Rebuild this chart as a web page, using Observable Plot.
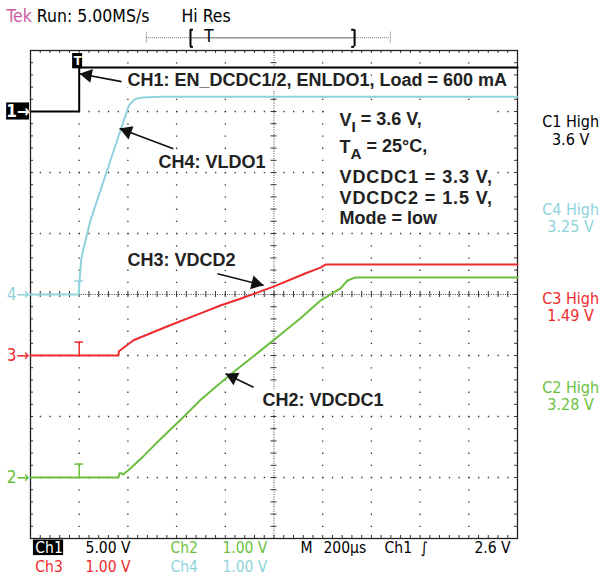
<!DOCTYPE html>
<html><head><meta charset="utf-8">
<script src="https://cdn.jsdelivr.net/npm/d3@7"></script>
<script src="https://cdn.jsdelivr.net/npm/@observablehq/plot@0.6"></script>
<style>body{margin:0;background:#fff}#chart svg{display:block}</style>
</head><body><div id="chart"></div>
<script>
// ---------- Trace data: time in µs after trigger, value in volts ----------
const ch1Time  = [-200, 0, 0, 1800];
const ch1Volts = [0, 0, 3.6, 3.6];
const ch4Time  = [-200, -2, 2.5, 8, 19, 46, 101, 142, 183, 204, 231, 260, 334, 1800];
const ch4Volts = [0, 0, 0.28, 0.56, 0.78, 1.21, 1.87, 2.36, 2.85, 3.10, 3.21, 3.23, 3.24, 3.24];
const ch3Time  = [-200, 161, 163, 223, 363, 498, 580, 662, 798, 938, 991, 1011, 1800];
const ch3Volts = [0, 0, 0.07, 0.25, 0.48, 0.69, 0.82, 0.93, 1.13, 1.36, 1.44, 1.49, 1.49];
const ch2Time  = [-200, 161, 166, 174, 180, 202, 264, 334, 420, 498, 565, 634, 745, 847, 909, 991, 1073, 1102, 1135, 1800];
const ch2Volts = [0, 0, 0.07, 0.07, 0.05, 0.12, 0.35, 0.63, 0.96, 1.27, 1.50, 1.73, 2.08, 2.41, 2.61, 2.90, 3.10, 3.23, 3.28, 3.28];

// ---------- Channel settings ----------
const channelNames   = ["CH1", "CH2", "CH3", "CH4"];
const channelColors  = ["#000000", "#6cbf3e", "#ee2a2d", "#8fd3da"];
const channelVPerDiv = [5, 1, 1, 1];
const channelOffset  = [3, -3, -1, 0];          // ground marker, in divisions
const channelHigh    = ["3.6 V", "3.28 V", "1.49 V", "3.25 V"];
const channelScaleLabels = ["5.00 V", "1.00 V", "1.00 V", "1.00 V"];
const channelSeries  = [[ch1Time, ch1Volts], [ch2Time, ch2Volts], [ch3Time, ch3Volts], [ch4Time, ch4Volts]];

// ---------- Text ----------
const headerBrand = "Tek";
const headerRun = "Run: 5.00MS/s";
const headerMode = "Hi Res";
const timebaseLabel = ["M", "200µs", "Ch1", "∫", "2.6 V"];
const ch1Label = "CH1: EN_DCDC1/2, ENLDO1, Load = 600 mA";
const ch4Label = "CH4: VLDO1";
const ch3Label = "CH3: VDCD2";
const ch2Label = "CH2: VDCDC1";
const conditionLines = ["V{I} = 3.6 V,", "T{A} = 25°C,", "VDCDC1 = 3.3 V,", "VDCDC2 = 1.5 V,", "Mode = low"];

// ---------- Screen geometry (oscilloscope graticule: 10 x 8 divisions) ----------
const T0 = -200, T1 = 1800, DIV = 4;
const W = 605, H = 577, mL = 30, mR = 88, mT = 50, mB = 39;
const pxPerUs = (W - mL - mR) / (T1 - T0), pxPerDiv = (H - mT - mB) / (2 * DIV);
const tek = "'DejaVu Sans Condensed','Liberation Sans Narrow','Roboto Condensed','DejaVu Sans',sans-serif";
const bold = "'Liberation Sans',Arial,Helvetica,sans-serif";

const traces = [];
channelSeries.forEach(([ts, vs], c) => ts.forEach((t, i) =>
  traces.push({ch: channelNames[c], t, d: channelOffset[c] + vs[i] / channelVPerDiv[c]})));

// graticule
const gridT = d3.range(1, 10).filter(k => k !== 5).map(k => T0 + 200 * k);
const gridD = [-3, -2, -1, 1, 2, 3];
const minorT = d3.range(1, 50).map(i => T0 + 40 * i);
const minorD = d3.range(1, 40).map(j => -DIV + 0.2 * j);
const tkD = 3 / pxPerDiv, tkT = 3 / pxPerUs;
const dotW = 1.3;

// channel cursor markers at trigger
const cursors = [1, 2, 3].map(c => ({ch: channelNames[c], color: channelColors[c], d: channelOffset[c]}));

// annotations (data coordinates)
const arrows = [
  {tailT: 174, tailD: 3.49, tipT: 2, tipD: 3.62},
  {tailT: 387, tailD: 2.39, tipT: 166, tipD: 2.72},
  {tailT: 568, tailD: 0.34, tipT: 757, tipD: 0.15},
  {tailT: 716, tailD: -1.52, tipT: 601, tipD: -1.30}
];
const headR = 5.2;
const heads = arrows.map(a => {
  const dx = (a.tipT - a.tailT) * pxPerUs, dy = -(a.tipD - a.tailD) * pxPerDiv;
  const L = Math.hypot(dx, dy), ux = dx / L, uy = dy / L, back = 1.555 * headR;
  return {t: a.tipT - ux * back / pxPerUs, d: a.tipD + uy * back / pxPerDiv, rot: Math.atan2(dy, dx) * 180 / Math.PI + 90};
});
const condD = [2.86, 2.42, 1.93, 1.58, 1.25];
const rightLabels = [0, 3, 2, 1].map((c, i) => ({text: `C${c + 1} High\n${channelHigh[c]}`, color: channelColors[c], d: [2.69, 1.25, -0.21, -1.66][i]}));
const leftMarks = [1, 2, 3].map(c => ({text: `${c + 1}→`, color: channelColors[c], d: channelOffset[c]}));
const rowD = [-4.15, -4.47];
const footer = [
  {t: 26, d: rowD[0], text: channelScaleLabels[0], color: "#000"},
  {t: 375, d: rowD[0], text: "Ch2", color: channelColors[1]},
  {t: 588, d: rowD[0], text: channelScaleLabels[1], color: channelColors[1]},
  {t: 909, d: rowD[0], text: timebaseLabel[0], color: "#000"},
  {t: 1003, d: rowD[0], text: timebaseLabel[1], color: "#000"},
  {t: 1254, d: rowD[0], text: timebaseLabel[2], color: "#000"},
  {t: 1402, d: rowD[0], text: timebaseLabel[3], color: "#000"},
  {t: 1623, d: rowD[0], text: timebaseLabel[4], color: "#000"},
  {t: -180, d: rowD[1], text: "Ch3", color: channelColors[2]},
  {t: 26, d: rowD[1], text: channelScaleLabels[2], color: channelColors[2]},
  {t: 375, d: rowD[1], text: "Ch4", color: channelColors[3]},
  {t: 588, d: rowD[1], text: channelScaleLabels[3], color: channelColors[3]}
];

const plot = Plot.plot({
  width: W, height: H, marginLeft: mL, marginRight: mR, marginTop: mT, marginBottom: mB,
  x: {domain: [T0, T1], axis: null},
  y: {domain: [-DIV, DIV], axis: null},
  color: {domain: channelNames, range: channelColors},
  style: {background: "#fff", fontFamily: tek, overflow: "visible"},
  marks: [
    // graticule: dotted division lines
    Plot.ruleX(gridT, {stroke: "#333", strokeWidth: dotW, strokeDasharray: `${dotW},${pxPerDiv / 5 - dotW}`}),
    Plot.ruleY(gridD, {stroke: "#333", strokeWidth: dotW, strokeDasharray: `${dotW},${pxPerUs * 40 - dotW}`}),
    Plot.ruleY([0], {stroke: "#444", strokeDasharray: "1,1.4"}),
    Plot.ruleX([800], {stroke: "#444", strokeDasharray: "1,1.4"}),
    Plot.ruleX(minorT, {y1: -tkD, y2: tkD, stroke: "#333"}),
    Plot.ruleY(minorD, {x1: 800 - tkT, x2: 800 + tkT, stroke: "#333"}),
    Plot.ruleX(minorT, {y1: DIV - tkD, y2: DIV, stroke: "#333"}),
    Plot.ruleX(minorT, {y1: -DIV, y2: -DIV + tkD, stroke: "#333"}),
    Plot.ruleY(minorD, {x1: T0, x2: T0 + tkT, stroke: "#333"}),
    Plot.ruleY(minorD, {x1: T1 - tkT, x2: T1, stroke: "#333"}),
    Plot.frame({stroke: "#222", strokeWidth: 1.3}),
    // white box behind the operating conditions
    Plot.rect([0], {x1: 1030, x2: 1705, y1: 1.08, y2: 3.08, fill: "#fff"}),
    // traces
    Plot.line(traces, {x: "t", y: "d", z: "ch", stroke: "ch", strokeWidth: 2}),
    // cursor markers
    Plot.ruleX(cursors, {x: 0, y1: "d", y2: d => d.d + 0.22, stroke: "color", strokeWidth: 1.5}),
    Plot.ruleY(cursors, {y: d => d.d + 0.22, x1: -18, x2: 18, stroke: "color", strokeWidth: 1.5}),
    // annotation labels
    Plot.text([ch1Label], {x: 198, y: 3.516, text: d => d, textAnchor: "start", fontFamily: bold, fontWeight: "bold", fontSize: 18, fill: "#222", stroke: "#fff", strokeWidth: 8}),
    Plot.text([ch4Label], {x: 326, y: 2.172, text: d => d, textAnchor: "start", fontFamily: bold, fontWeight: "bold", fontSize: 18, fill: "#222", stroke: "#fff", strokeWidth: 8}),
    Plot.text([ch3Label], {x: 198, y: 0.566, text: d => d, textAnchor: "start", fontFamily: bold, fontWeight: "bold", fontSize: 18, fill: "#222", stroke: "#fff", strokeWidth: 8}),
    Plot.text([ch2Label], {x: 753, y: -1.73, text: d => d, textAnchor: "start", fontFamily: bold, fontWeight: "bold", fontSize: 18, fill: "#222", stroke: "#fff", strokeWidth: 8}),
    Plot.text(conditionLines, {x: 1069, y: (d, i) => condD[i], text: d => d, textAnchor: "start", fontFamily: bold, fontWeight: "bold", fontSize: 18, fill: "#222"}),
    // arrows
    Plot.link(arrows, {x1: "tailT", y1: "tailD", x2: "tipT", y2: "tipD", stroke: "#111", strokeWidth: 1.6}),
    Plot.dot(heads, {x: "t", y: "d", rotate: "rot", symbol: "triangle", r: headR, fill: "#111"}),
    // trigger marker at top
    Plot.rect([0], {x1: -27, x2: 14, y1: 3.70, y2: 3.95, fill: "#000"}),
    Plot.text(["T"], {x: -6.5, y: 3.83, text: d => d, fill: "#fff", fontSize: 13, fontWeight: "bold"}),
    // left ground markers
    Plot.rect([0], {x1: -298, x2: -204, y1: 2.86, y2: 3.14, fill: "#000"}),
    Plot.text(["1→"], {x: -251, y: 3, text: d => d, fill: "#fff", fontSize: 17, fontWeight: "bold"}),
    Plot.text(leftMarks, {x: -251, y: "d", text: "text", fill: "color", fontSize: 17}),
    // right channel readouts
    Plot.text(rightLabels, {x: 2018, y: "d", text: "text", fill: "color", fontSize: 16, lineHeight: 1.08}),
    // header
    Plot.text([headerBrand], {x: -299, y: 4.557, text: d => d, textAnchor: "start", fill: "#c95ca1", fontSize: 17.5}),
    Plot.text([headerRun], {x: -174, y: 4.557, text: d => d, textAnchor: "start", fill: "#000", fontSize: 17.5}),
    Plot.text([headerMode], {x: 420, y: 4.557, text: d => d, textAnchor: "start", fill: "#000", fontSize: 17.5}),
    Plot.ruleY([4.21], {x1: 276, x2: 1278, stroke: "#777", strokeDasharray: "1,1"}),
    Plot.ruleY([4.21], {x1: 457, x2: 1131, stroke: "#999", strokeWidth: 1.5}),
    Plot.ruleX([276, 1278], {y1: 4.12, y2: 4.30, stroke: "#777", strokeDasharray: "1,1"}),
    Plot.ruleX([457, 1131], {y1: 4.06, y2: 4.34, stroke: "#000", strokeWidth: 2}),
    Plot.ruleY([4.06, 4.34], {x1: 457, x2: 469, stroke: "#000", strokeWidth: 2}),
    Plot.ruleY([4.06, 4.34], {x1: 1119, x2: 1131, stroke: "#000", strokeWidth: 2}),
    Plot.text(["T"], {x: 533, y: 4.23, text: d => d, fill: "#000", fontSize: 17}),
    // footer
    Plot.rect([0], {x1: -188, x2: -64, y1: -4.28, y2: -4.025, fill: "#000"}),
    Plot.text(["Ch1"], {x: -180, y: rowD[0], text: d => d, textAnchor: "start", fill: "#fff", fontSize: 15.5}),
    Plot.text(footer, {x: "t", y: "d", text: "text", fill: "color", textAnchor: "start", fontSize: 15.5})
  ]
});

// subscripts: "V{I}" -> V with subscript I ; wider spacing on the VDCDC lines
d3.select(plot).selectAll("text").each(function() {
  const s = this.textContent;
  if (/^VDCDC/.test(s)) d3.select(this).attr("letter-spacing", "0.9px");
  const m = s.match(/^(.*?)\{(.)\}(.*)$/);
  if (!m) return;
  const el = d3.select(this); el.text("");
  el.append("tspan").text(m[1]);
  el.append("tspan").attr("dy", "0.42em").attr("font-size", "85%").text(m[2]);
  el.append("tspan").attr("dy", "-0.42em").text(m[3]);
});
document.getElementById("chart").append(plot);
</script>
</body></html>
